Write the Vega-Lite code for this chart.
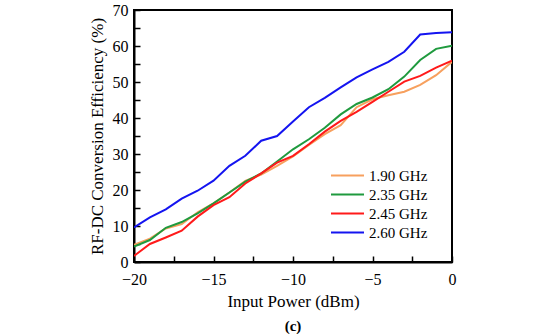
{
  "$schema": "https://vega.github.io/schema/vega-lite/v6.json",
  "width": 318,
  "height": 252,
  "autosize": "none",
  "padding": {"left": 134, "top": 10, "right": 98, "bottom": 72},
  "background": "white",
  "config": {
    "font": "Liberation Serif",
    "view": {"stroke": "black", "strokeWidth": 2},
    "axis": {"grid": false, "domainColor": "black", "domainWidth": 2, "tickColor": "black", "tickWidth": 1.5, "labelColor": "black", "titleColor": "black", "labelFont": "Liberation Serif", "titleFont": "Liberation Serif", "labelFontSize": 16, "titleFontSize": 17, "titleFontWeight": "normal"}
  },
  "title": {"text": "(c)", "orient": "bottom", "fontSize": 15, "fontWeight": "bold", "font": "Liberation Serif", "offset": 10, "color": "black"},
  "data": {"values": [
    {"p": -20, "f": "1.90 GHz", "e": 4.8}, {"p": -19, "f": "1.90 GHz", "e": 6.5}, {"p": -18, "f": "1.90 GHz", "e": 9.3}, {"p": -17, "f": "1.90 GHz", "e": 10.5}, {"p": -16, "f": "1.90 GHz", "e": 13.8}, {"p": -15, "f": "1.90 GHz", "e": 16.3}, {"p": -14, "f": "1.90 GHz", "e": 19.3}, {"p": -13, "f": "1.90 GHz", "e": 22.5}, {"p": -12, "f": "1.90 GHz", "e": 24.3}, {"p": -11, "f": "1.90 GHz", "e": 26.7}, {"p": -10, "f": "1.90 GHz", "e": 29.3}, {"p": -9, "f": "1.90 GHz", "e": 32.5}, {"p": -8, "f": "1.90 GHz", "e": 35.5}, {"p": -7, "f": "1.90 GHz", "e": 38.0}, {"p": -6, "f": "1.90 GHz", "e": 43.0}, {"p": -5, "f": "1.90 GHz", "e": 45.2}, {"p": -4, "f": "1.90 GHz", "e": 46.3}, {"p": -3, "f": "1.90 GHz", "e": 47.3}, {"p": -2, "f": "1.90 GHz", "e": 49.2}, {"p": -1, "f": "1.90 GHz", "e": 51.9}, {"p": 0, "f": "1.90 GHz", "e": 55.6},
    {"p": -20, "f": "2.35 GHz", "e": 4.3}, {"p": -19, "f": "2.35 GHz", "e": 6.1}, {"p": -18, "f": "2.35 GHz", "e": 9.5}, {"p": -17, "f": "2.35 GHz", "e": 11.1}, {"p": -16, "f": "2.35 GHz", "e": 13.5}, {"p": -15, "f": "2.35 GHz", "e": 16.3}, {"p": -14, "f": "2.35 GHz", "e": 19.3}, {"p": -13, "f": "2.35 GHz", "e": 22.3}, {"p": -12, "f": "2.35 GHz", "e": 24.6}, {"p": -11, "f": "2.35 GHz", "e": 27.9}, {"p": -10, "f": "2.35 GHz", "e": 31.3}, {"p": -9, "f": "2.35 GHz", "e": 34.1}, {"p": -8, "f": "2.35 GHz", "e": 37.3}, {"p": -7, "f": "2.35 GHz", "e": 41.0}, {"p": -6, "f": "2.35 GHz", "e": 43.9}, {"p": -5, "f": "2.35 GHz", "e": 45.7}, {"p": -4, "f": "2.35 GHz", "e": 48.0}, {"p": -3, "f": "2.35 GHz", "e": 51.5}, {"p": -2, "f": "2.35 GHz", "e": 56.1}, {"p": -1, "f": "2.35 GHz", "e": 59.2}, {"p": 0, "f": "2.35 GHz", "e": 60.1},
    {"p": -20, "f": "2.45 GHz", "e": 1.7}, {"p": -19, "f": "2.45 GHz", "e": 5.0}, {"p": -18, "f": "2.45 GHz", "e": 6.8}, {"p": -17, "f": "2.45 GHz", "e": 8.7}, {"p": -16, "f": "2.45 GHz", "e": 12.6}, {"p": -15, "f": "2.45 GHz", "e": 15.8}, {"p": -14, "f": "2.45 GHz", "e": 18.0}, {"p": -13, "f": "2.45 GHz", "e": 21.8}, {"p": -12, "f": "2.45 GHz", "e": 24.6}, {"p": -11, "f": "2.45 GHz", "e": 27.6}, {"p": -10, "f": "2.45 GHz", "e": 29.5}, {"p": -9, "f": "2.45 GHz", "e": 32.7}, {"p": -8, "f": "2.45 GHz", "e": 36.2}, {"p": -7, "f": "2.45 GHz", "e": 39.2}, {"p": -6, "f": "2.45 GHz", "e": 41.7}, {"p": -5, "f": "2.45 GHz", "e": 44.5}, {"p": -4, "f": "2.45 GHz", "e": 47.3}, {"p": -3, "f": "2.45 GHz", "e": 50.1}, {"p": -2, "f": "2.45 GHz", "e": 51.7}, {"p": -1, "f": "2.45 GHz", "e": 54.0}, {"p": 0, "f": "2.45 GHz", "e": 55.9},
    {"p": -20, "f": "2.60 GHz", "e": 9.6}, {"p": -19, "f": "2.60 GHz", "e": 12.4}, {"p": -18, "f": "2.60 GHz", "e": 14.6}, {"p": -17, "f": "2.60 GHz", "e": 17.6}, {"p": -16, "f": "2.60 GHz", "e": 19.8}, {"p": -15, "f": "2.60 GHz", "e": 22.6}, {"p": -14, "f": "2.60 GHz", "e": 26.7}, {"p": -13, "f": "2.60 GHz", "e": 29.5}, {"p": -12, "f": "2.60 GHz", "e": 33.7}, {"p": -11, "f": "2.60 GHz", "e": 35.0}, {"p": -10, "f": "2.60 GHz", "e": 39.0}, {"p": -9, "f": "2.60 GHz", "e": 43.0}, {"p": -8, "f": "2.60 GHz", "e": 45.6}, {"p": -7, "f": "2.60 GHz", "e": 48.5}, {"p": -6, "f": "2.60 GHz", "e": 51.3}, {"p": -5, "f": "2.60 GHz", "e": 53.5}, {"p": -4, "f": "2.60 GHz", "e": 55.6}, {"p": -3, "f": "2.60 GHz", "e": 58.4}, {"p": -2, "f": "2.60 GHz", "e": 63.2}, {"p": -1, "f": "2.60 GHz", "e": 63.6}, {"p": 0, "f": "2.60 GHz", "e": 63.8}
  ]},
  "resolve": {"axis": {"x": "independent", "y": "independent"}},
  "layer": [
    {
      "mark": {"type": "line", "strokeWidth": 2, "clip": true},
      "encoding": {
        "x": {"field": "p", "type": "quantitative", "scale": {"domain": [-20, 0], "nice": false, "zero": false},
          "axis": {"orient": "bottom", "title": "Input Power  (dBm)", "values": [-20, -15, -10, -5, 0],
            "ticks": false, "labelPadding": 9, "titlePadding": 6, "labelFlush": false}},
        "y": {"field": "e", "type": "quantitative", "scale": {"domain": [0, 70], "nice": false},
          "axis": {"orient": "left", "title": "RF-DC Conversion Efficiency (%)", "values": [0, 10, 20, 30, 40, 50, 60, 70],
            "ticks": false, "labelPadding": 6, "titlePadding": 6, "labelFlush": false}},
        "color": {"field": "f", "type": "nominal",
          "scale": {"domain": ["1.90 GHz", "2.35 GHz", "2.45 GHz", "2.60 GHz"], "range": ["#F7A05E", "#1F9A3E", "#FF1A1A", "#1414F0"]},
          "legend": {"title": null, "orient": "none", "legendX": 206, "legendY": 158, "symbolType": "M-3,0H3", "symbolSize": 121, "symbolStrokeWidth": 2, "labelFontSize": 15, "labelFont": "Liberation Serif", "labelColor": "black", "rowPadding": 3, "labelOffset": 14}}
      }
    },
    {
      "mark": {"type": "line", "strokeOpacity": 0, "clip": true},
      "encoding": {
        "detail": {"field": "f"},
        "x": {"field": "p", "type": "quantitative",
          "axis": {"orient": "bottom", "title": null, "labels": false, "domain": false, "ticks": true, "offset": -6, "tickSize": 6,
            "values": [-20, -17.5, -15, -12.5, -10, -7.5, -5, -2.5, 0]}},
        "y": {"field": "e", "type": "quantitative",
          "axis": {"orient": "left", "title": null, "labels": false, "domain": false, "ticks": true, "offset": -6, "tickSize": 6,
            "values": [0, 5, 10, 15, 20, 25, 30, 35, 40, 45, 50, 55, 60, 65, 70]}}
      }
    }
  ]
}
